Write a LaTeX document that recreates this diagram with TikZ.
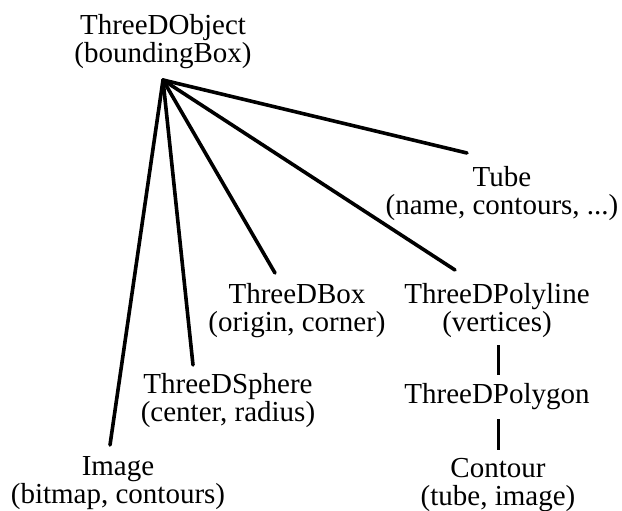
\documentclass[tikz,border=0pt]{standalone}
\usepackage{fontspec}
\setmainfont{Liberation Serif}
\begin{document}
\begin{tikzpicture}[x=1pt,y=-1pt,
  label/.style={inner sep=0pt, align=center, anchor=base,
    font=\fontsize{29}{28}\selectfont},
  branch/.style={line width=3.6pt, line cap=round},
  link/.style={line width=3pt}]
\useasboundingbox (0,0) rectangle (622,511);

% class names with their attributes (anchored at the last baseline)
\node[label] (obj)     at (163,63)  {ThreeDObject\\(boundingBox)};
\node[label] (tube)    at (502,214) {Tube\\(name, contours, ...)};
\node[label] (box)     at (297,331) {ThreeDBox\\(origin, corner)};
\node[label] (poly)    at (497,331) {ThreeDPolyline\\(vertices)};
\node[label] (sphere)  at (228,421) {ThreeDSphere\\(center, radius)};
\node[label] (polygon) at (497,403) {ThreeDPolygon};
\node[label] (contour) at (498,505) {Contour\\(tube, image)};
\node[label] (image)   at (118,503) {Image\\(bitmap, contours)};

% fan of subclass links from the root
\coordinate (apex)     at (163,80);
\coordinate (tubeEnd)  at (467,153);
\coordinate (polyEnd)  at (455,270);
\coordinate (boxEnd)   at (275,273);
\coordinate (sphEnd)   at (193,365);
\coordinate (imgEnd)   at (110,445);
\draw[branch] (apex) -- (tubeEnd);
\draw[branch] (apex) -- (polyEnd);
\draw[branch] (apex) -- (boxEnd);
\draw[branch] (apex) -- (sphEnd);
\draw[branch] (apex) -- (imgEnd);

% chain below ThreeDPolyline
\coordinate (p1) at (498,345);
\coordinate (p2) at (498,375);
\coordinate (q1) at (498,419);
\coordinate (q2) at (498,450);
\draw[link] (p1) -- (p2);
\draw[link] (q1) -- (q2);
\end{tikzpicture}
\end{document}
